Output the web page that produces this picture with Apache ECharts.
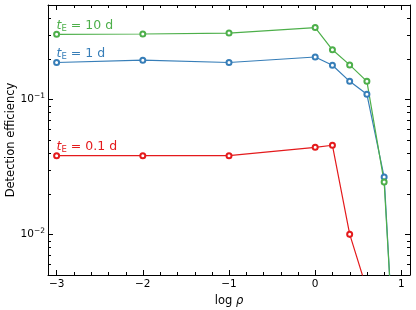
<!DOCTYPE html>
<html>
<head>
<meta charset="utf-8">
<script src="https://cdn.jsdelivr.net/npm/echarts@6/dist/echarts.min.js"></script>
<style>html,body{margin:0;padding:0;background:#fff}#c{width:416px;height:310px}</style>
</head>
<body>
<div id="c"></div>
<script>
// ---- data ----
const logRho = [-3, -2, -1, 0, 0.2, 0.4, 0.6, 0.8, 1.0];
const eff10d = [0.303, 0.305, 0.31, 0.34, 0.233, 0.18, 0.136, 0.0244, 0.00015];
const eff1d  = [0.1875, 0.195, 0.1875, 0.206, 0.179, 0.136, 0.109, 0.0266, 0.00013];
const logRhoRed = [-3, -2, -1, 0, 0.2, 0.4, 0.6];
const eff01d = [0.0383, 0.0383, 0.0383, 0.0441, 0.0457, 0.01004, 0.0039];
const err10d = [0.008, 0.008, 0.008, 0.009, 0.007, 0.006, 0.005, 0.0015, 0];
const err1d  = [0.006, 0.006, 0.006, 0.007, 0.006, 0.005, 0.004, 0.0015, 0];
const err01d = [0.0015, 0.0015, 0.0015, 0.0017, 0.0017, 0.0006, 0];
const xTickLabels = [-3, -2, -1, 0, 1];
const yTickLabels = [0.01, 0.1];
const xMinorTicks = [-2.8,-2.6,-2.4,-2.2,-1.8,-1.6,-1.4,-1.2,-0.8,-0.6,-0.4,-0.2,0.2,0.4,0.6,0.8];
const yMinorTicks = [0.006,0.007,0.008,0.009,0.02,0.03,0.04,0.05,0.06,0.07,0.08,0.09,0.2,0.3,0.4,0.5];
const seriesNames = ['10 d', '1 d', '0.1 d'];

const colors = ['#4daf4a', '#377eb8', '#e41a1c'];
const FONT = 'DejaVu Sans';

function pairs(xs, ys) { return xs.map((x, i) => [x, ys[i]]); }
function errPairs(xs, ys, es) { return xs.map((x, i) => [x, ys[i], es[i]]); }

function lineSeries(name, xs, ys, color) {
  return {
    type: 'line', name: name, data: pairs(xs, ys),
    symbol: 'emptyCircle', symbolSize: 5,
    lineStyle: { color: color, width: 1.2 },
    itemStyle: { color: color, borderColor: color, borderWidth: 1 },
    clip: true, z: 3,
    label: {
      show: true, position: 'top', distance: 2, align: 'left', offset: [0, 4],
      formatter: function (p) {
        return p.dataIndex === 0 ? '{i|t}{s|E}{n| = ' + name + '}' : '';
      },
      rich: {
        i: { fontFamily: FONT, fontStyle: 'italic', fontSize: 12.5, color: color },
        s: { fontFamily: FONT, fontSize: 8.5, color: color, padding: [5, 0, 0, 0] },
        n: { fontFamily: FONT, fontSize: 12.5, color: color }
      }
    }
  };
}

function errSeries(xs, ys, es, color) {
  return {
    type: 'custom', data: errPairs(xs, ys, es), silent: true, z: 2, clip: true,
    renderItem: function (params, api) {
      const x = api.value(0), y = api.value(1), e = api.value(2);
      if (!e) return null;
      const p1 = api.coord([x, y - e]);
      const p2 = api.coord([x, y + e]);
      return { type: 'line', shape: { x1: p1[0], y1: p1[1], x2: p2[0], y2: p2[1] },
               style: { stroke: color, lineWidth: 1 } };
    }
  };
}

const minorYSeries = {
  type: 'custom', silent: true, z: 5, clip: false,
  data: yMinorTicks.map(v => [0, v]),
  renderItem: function (params, api) {
    const cs = params.coordSys;
    const py = Math.round(api.coord([0, api.value(1)])[1]) + 0.5;
    return { type: 'group', children: [
      { type: 'line', shape: { x1: cs.x, y1: py, x2: cs.x + 3, y2: py }, style: { stroke: '#000', lineWidth: 1 } },
      { type: 'line', shape: { x1: cs.x + cs.width - 3, y1: py, x2: cs.x + cs.width, y2: py }, style: { stroke: '#000', lineWidth: 1 } }
    ]};
  }
};
const minorXSeries = {
  type: 'custom', silent: true, z: 5, clip: false,
  data: xMinorTicks.map(v => [v, 0.1]),
  renderItem: function (params, api) {
    const cs = params.coordSys;
    const px = Math.round(api.coord([api.value(0), 0.1])[0]) + 0.5;
    return { type: 'group', children: [
      { type: 'line', shape: { x1: px, y1: cs.y + cs.height, x2: px, y2: cs.y + cs.height - 3 }, style: { stroke: '#000', lineWidth: 1 } },
      { type: 'line', shape: { x1: px, y1: cs.y, x2: px, y2: cs.y + 3 }, style: { stroke: '#000', lineWidth: 1 } }
    ]};
  }
};

const isPow10 = v => Math.abs(Math.log10(v) - Math.round(Math.log10(v))) < 1e-6;

function axisCommon() {
  return {
    axisLine: { show: true, onZero: false, lineStyle: { color: '#000', width: 1 } },
    axisTick: { show: true, inside: true, length: 5, lineStyle: { color: '#000', width: 1 } },
    splitLine: { show: false }
  };
}

const option = {
  animation: false,
  backgroundColor: '#fff',
  grid: { left: 48, right: 6, top: 5, bottom: 35, containLabel: false, outerBoundsMode: 'none' },
  xAxis: [
    Object.assign(axisCommon(), {
      type: 'value', min: -3.1, max: 1.1, splitNumber: 4, position: 'bottom',
      name: 'log {r|ρ}', nameLocation: 'middle', nameGap: 20, nameMoveOverlap: false,
      nameTextStyle: { fontFamily: FONT, fontSize: 11.5, color: '#000',
        rich: { r: { fontFamily: FONT, fontStyle: 'italic', fontSize: 11.5, color: '#000' } } },
      axisLabel: { fontFamily: FONT, fontSize: 10.5, color: '#000', margin: 4,
        showMinLabel: false, showMaxLabel: false,
        formatter: function (v) {
          if (xTickLabels.indexOf(Math.round(v)) < 0 || Math.abs(v - Math.round(v)) > 1e-6) return '';
          return String(Math.round(v)).replace('-', '\u2212');
        } }
    }),
    Object.assign(axisCommon(), {
      type: 'value', min: -3.1, max: 1.1, splitNumber: 4, position: 'top',
      axisLabel: { show: false }
    })
  ],
  yAxis: [
    Object.assign(axisCommon(), {
      type: 'log', logBase: 10, min: 0.005, max: 0.5, position: 'left',
      name: 'Detection efficiency', nameLocation: 'middle', nameGap: 31, nameMoveOverlap: false,
      nameTextStyle: { fontFamily: FONT, fontSize: 11.5, color: '#000' },
      axisLabel: { fontFamily: FONT, color: '#000', margin: 3,
        formatter: function (v) {
          if (!isPow10(v)) return '';
          if (!yTickLabels.some(t => Math.abs(t - v) < 1e-9)) return '';
          const e = Math.round(Math.log10(v));
          return '{b|10}{s|' + String(e).replace('-', '\u2212') + '}';
        },
        rich: {
          b: { fontFamily: FONT, fontSize: 10.5, color: '#000' },
          s: { fontFamily: FONT, fontSize: 7.5, color: '#000', padding: [0, 0, 6, 0] }
        } }
    }),
    Object.assign(axisCommon(), {
      type: 'log', logBase: 10, min: 0.005, max: 0.5, position: 'right',
      axisLabel: { show: false }
    })
  ],
  series: [
    errSeries(logRhoRed, eff01d, err01d, colors[2]),
    errSeries(logRho, eff1d, err1d, colors[1]),
    errSeries(logRho, eff10d, err10d, colors[0]),
    lineSeries(seriesNames[2], logRhoRed, eff01d, colors[2]),
    lineSeries(seriesNames[1], logRho, eff1d, colors[1]),
    lineSeries(seriesNames[0], logRho, eff10d, colors[0]),
    minorYSeries,
    minorXSeries
  ]
};

const chart = echarts.init(document.getElementById('c'), null, { renderer: 'canvas' });
chart.setOption(option);
</script>
</body>
</html>
